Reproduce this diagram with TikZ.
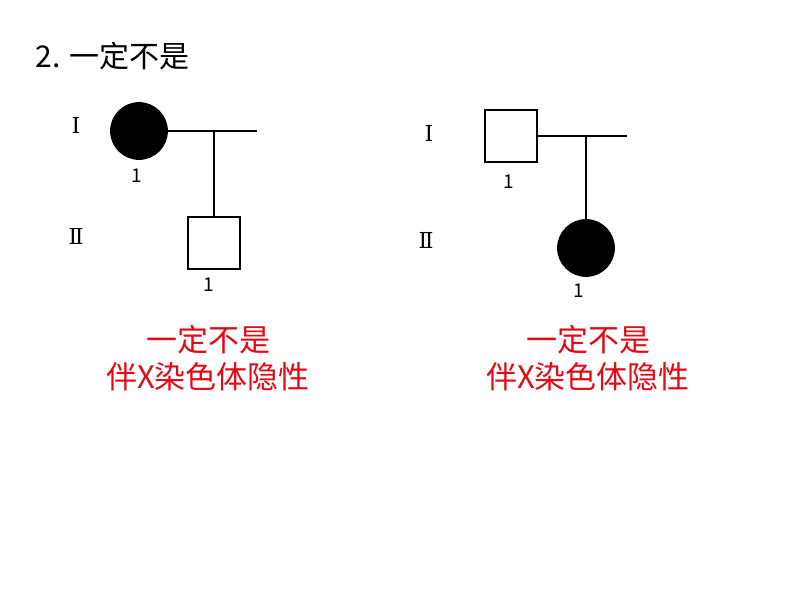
\documentclass[tikz,border=0pt]{standalone}
\usepackage{fontspec}
\setmainfont{Noto Sans CJK SC}
\newfontfamily\numeralfont{DejaVu Serif}
\usetikzlibrary{positioning}
\definecolor{hintred}{RGB}{226,10,22}

\tikzset{
    female/.style={circle, draw=black, fill=black, line width=1.8pt, minimum size=56pt, inner sep=0pt},
    male/.style={rectangle, draw=black, line width=1.8pt, minimum size=52pt, inner sep=0pt},
    kinline/.style={line width=1.8pt},
    idlabel/.style={font=\fontsize{19}{19}\selectfont},
    genlabel/.style={font=\numeralfont\fontsize{22}{22}\selectfont},
    verdict/.style={text=hintred, align=center, font=\fontsize{31}{37}\selectfont}
}

\begin{document}
\begin{tikzpicture}[x=1pt, y=-1pt]
    \useasboundingbox (0, 0) rectangle (794, 596);
    \node[anchor=west, font=\fontsize{30}{30}\selectfont] (title) at (32, 56) {2. 一定不是};

    % left pedigree
    \node[genlabel] (genI1) at (76, 125) {Ⅰ};
    \node[genlabel] (genII1) at (76, 236) {Ⅱ};
    \node[female] (mother1) at (139, 131) {};
    \node[male] (son1) at (214, 243) {};
    \coordinate (mate1) at (257, 131);
    \coordinate (drop1) at (214, 131);
    \node[idlabel] (mother1id) at (137, 176) {1};
    \node[idlabel] (son1id) at (209, 285) {1};
    \draw[kinline] (mother1.east) -- (mate1);
    \draw[kinline] (drop1) -- (son1.north);
    \node[verdict] (verdict1) at (208, 358) {一定不是\\伴X染色体隐性};

    % right pedigree
    \node[genlabel] (genI2) at (429, 133) {Ⅰ};
    \node[genlabel] (genII2) at (426, 240) {Ⅱ};
    \node[male] (father2) at (511, 136) {};
    \node[female] (daughter2) at (586, 248) {};
    \coordinate (mate2) at (627, 136);
    \coordinate (drop2) at (586, 136);
    \node[idlabel] (father2id) at (509, 182) {1};
    \node[idlabel] (daughter2id) at (579, 291) {1};
    \draw[kinline] (father2.east) -- (mate2);
    \draw[kinline] (drop2) -- (daughter2.north);
    \node[verdict] (verdict2) at (588, 358) {一定不是\\伴X染色体隐性};
\end{tikzpicture}
\end{document}
